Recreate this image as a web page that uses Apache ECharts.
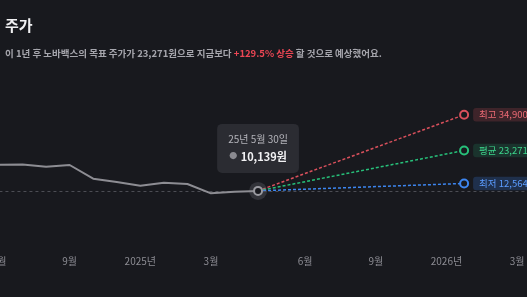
<!DOCTYPE html>
<html>
<head>
<meta charset="utf-8">
<script src="https://cdn.jsdelivr.net/npm/echarts@6/dist/echarts.min.js"></script>
<style>
  html, body { margin: 0; padding: 0; background: #18191e; }
  #chart { width: 527px; height: 297px; }
</style>
</head>
<body>
<div id="chart"></div>
<script>
// 월 단위 위치 (0 = 2024년 6월)
var histX = [0, 1, 2, 3, 4, 5, 6, 7, 8, 9, 10, 11];
var histPrice = [18660, 18720, 18010, 18560, 14120, 13030, 11830, 12800, 12380, 9350, 9870, 10139];
var currentDate = '25년 5월 30일';

var forecastX = 19.75;
var targetNames = ['최고', '평균', '최저'];
var targetPrice = [34900, 23271, 12564];
var targetColor = ['#d9505c', '#27c07a', '#3d86f0'];
var targetBg = ['rgba(217,80,92,0.2)', 'rgba(39,192,122,0.16)', 'rgba(61,134,240,0.22)'];
var targetText = ['#ec6a74', '#3dd68c', '#5b9cff'];
var upside = '+129.5%';

var tickPos = [0, 3, 6, 9, 13, 16, 19, 22];
var tickText = ['6월', '9월', '2025년', '3월', '6월', '9월', '2026년', '3월'];

var FONT = '"Noto Sans CJK KR", "Noto Sans", sans-serif';
var BG = '#18191e';

function fmt(n) { return n.toLocaleString('en-US'); }

var chart = echarts.init(document.getElementById('chart'));

var last = histX.length - 1;
var histData = histX.map(function (x, i) { return [x, histPrice[i]]; });
histData[last] = {
  value: [histX[last], histPrice[last]],
  symbol: 'circle',
  symbolSize: 8,
  itemStyle: { color: BG, borderColor: '#9a9aa0', borderWidth: 2 },
  label: {
    show: true,
    position: 'top',
    distance: 13,
    formatter: '{t|' + currentDate + '}\n{d|●} {v|' + fmt(histPrice[last]) + '원}',
    backgroundColor: '#2b2c32',
    borderRadius: 5,
    padding: [7, 11, 8, 11],
    rich: {
      t: { fontSize: 10, color: '#b4b4ba', lineHeight: 17, fontFamily: FONT },
      d: { fontSize: 8, color: '#8a8a90', lineHeight: 17, fontFamily: FONT },
      v: { fontSize: 11, fontWeight: 'bold', color: '#f2f2f4', lineHeight: 17, fontFamily: FONT }
    }
  }
};

var series = [];

targetPrice.forEach(function (p, i) {
  series.push({
    type: 'line',
    z: 3,
    silent: true,
    symbol: 'none',
    lineStyle: { color: targetColor[i], width: 1.5, type: [3, 2] },
    data: [
      [histX[last], histPrice[last]],
      {
        value: [forecastX, p],
        symbol: 'circle',
        symbolSize: 8,
        itemStyle: { color: BG, borderColor: targetColor[i], borderWidth: 2 },
        label: {
          show: true,
          position: 'right',
          distance: 4,
          formatter: targetNames[i] + ' ' + fmt(p) + '원',
          color: targetText[i],
          fontSize: 9.5,
          fontFamily: FONT,
          backgroundColor: targetBg[i],
          borderRadius: 3,
          padding: [2, 6, 2, 6]
        }
      }
    ]
  });
});

series.push({
  type: 'scatter',
  z: 4,
  silent: true,
  symbolSize: 18,
  itemStyle: { color: 'rgba(120,120,128,0.35)' },
  data: [[histX[last], histPrice[last]]]
});

series.push({
  type: 'line',
  z: 5,
  silent: true,
  symbol: 'none',
  showSymbol: true,
  lineStyle: { color: '#8d8d93', width: 2 },
  data: histData,
  markLine: {
    silent: true,
    symbol: 'none',
    label: { show: false },
    lineStyle: { color: '#4c4d54', type: [3, 3], width: 1 },
    data: [{ yAxis: histPrice[last] }]
  }
});

chart.setOption({
  backgroundColor: BG,
  animation: false,
  title: [
    {
      text: '주가',
      left: 0,
      top: 13,
      textStyle: { color: '#f0f0f2', fontSize: 15, fontWeight: 'bold', fontFamily: FONT }
    },
    {
      text: '{a|이 1년 후 노바백스의 목표 주가가 ' + fmt(targetPrice[1]) + '원으로 지금보다 }{b|' + upside + ' 상승}{a| 할 것으로 예상했어요.}',
      left: 0,
      top: 44,
      textStyle: {
        rich: {
          a: { color: '#a6a6ad', fontSize: 9.5, fontFamily: FONT },
          b: { color: '#ec4654', fontSize: 9.5, fontFamily: FONT, fontWeight: 'bold' }
        }
      }
    }
  ],
  grid: { left: -24.55, right: -37.2, top: 68.35, bottom: 74.95, outerBoundsMode: 'none', containLabel: false },
  xAxis: {
    type: 'value',
    min: -1,
    max: 24,
    interval: 1,
    axisLine: { show: false },
    axisTick: { show: false },
    splitLine: { show: false },
    axisLabel: {
      margin: 34,
      color: '#8c8c93',
      fontSize: 10,
      fontFamily: FONT,
      formatter: function (v) {
        var k = tickPos.indexOf(v);
        return k >= 0 ? tickText[k] : '';
      }
    }
  },
  yAxis: {
    type: 'value',
    min: 0,
    max: 50000,
    show: false,
    splitLine: { show: false }
  },
  series: series
});
</script>
</body>
</html>
